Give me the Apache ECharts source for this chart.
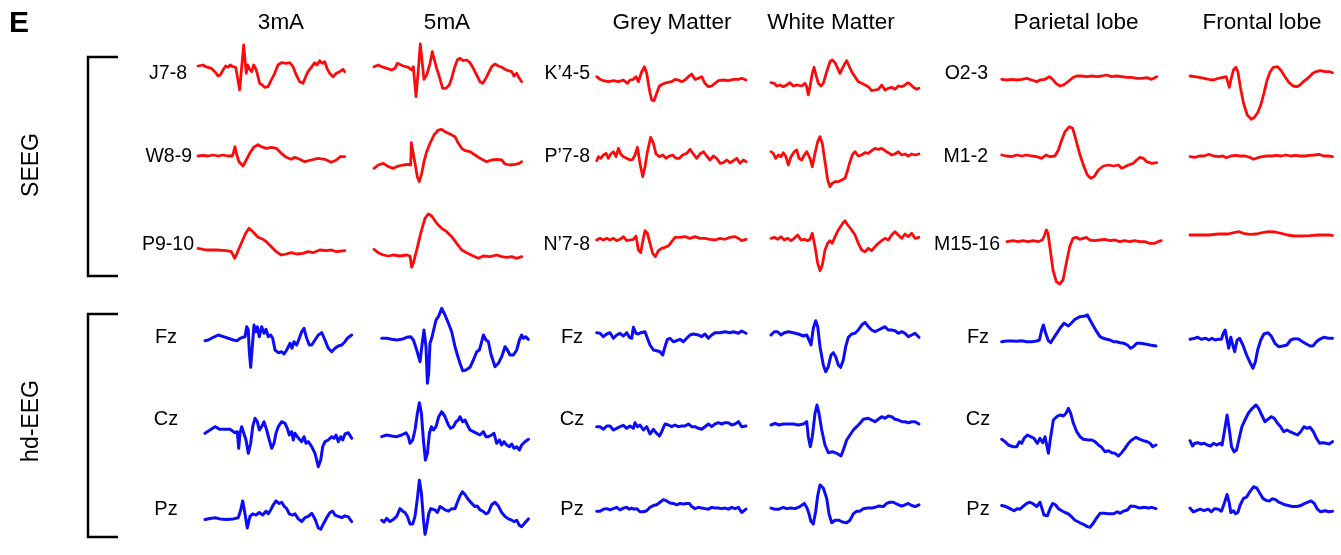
<!DOCTYPE html>
<html><head><meta charset="utf-8">
<script src="https://cdn.jsdelivr.net/npm/echarts@6/dist/echarts.min.js"></script>
<style>html,body{margin:0;padding:0;background:#fff}#c{width:1341px;height:555px}</style>
</head><body><div id="c"></div>
<script>
// ---------- text ----------
const panelLetter = 'E';
const columnTitles = ['3mA', '5mA', 'Grey Matter', 'White Matter', 'Parietal lobe', 'Frontal lobe'];
const groupLabels = ['SEEG', 'hd-EEG'];
const seegLabels3mA = ['J7-8', 'W8-9', 'P9-10'];
const seegLabelsGrey = ['K\u20194-5', 'P\u20197-8', 'N\u20197-8'];
const seegLabelsParietal = ['O2-3', 'M1-2', 'M15-16'];
const eegLabels = ['Fz', 'Cz', 'Pz'];

// ---------- SEEG traces: [time, amplitude] ----------
const seeg_3mA_J78 = [[0,6],[5,7],[7.7,5.3],[10,4.7],[11.7,2.7],[13.3,3.7],[15,2],[17.7,-0.7],[20,-4],[22.3,-3],[25,2],[27.7,6],[30,4.7],[32.3,7],[35,5.3],[37.7,4.7],[39.7,3.7],[41.7,-18],[43.7,5.3],[45.7,27],[47.3,8.7],[48.3,-1.3],[49.7,7],[51.7,2.7],[53.7,0.3],[55.7,7],[58.3,2],[61.7,-11.3],[64.3,-13],[66.7,-15.3],[70,-14.7],[73.3,-8],[76.7,-1.3],[80,7],[83.3,9.3],[88.3,8.7],[91.7,9.3],[95,5.3],[98.3,-3],[101.7,-9.7],[105,-11.3],[107.7,-4.7],[110,0.3],[113.3,4.7],[116.7,9.3],[119,7],[121.7,11.3],[124.3,8.7],[126.7,10.3],[129,3.7],[131.7,-1.3],[135,-4.7],[138.3,-1.3],[141.7,0.3],[145,2.7],[146.7,0.3]];
const seeg_3mA_W89 = [[0,1],[5,1.7],[10,1],[15,2],[20,1],[25,2],[30,1],[34.3,1],[35.7,5.3],[37,10.3],[38.3,3.7],[41,-4.7],[45,-9],[48.3,-3],[51.7,3.7],[55.7,9.7],[60,12.3],[63.3,10.3],[68.3,8.7],[73.3,9.7],[78.3,8.7],[83.3,3.7],[88.3,-0.3],[93.3,-2.3],[96.7,-0.3],[101.7,-2.3],[106.7,-4.7],[113.3,-3],[120,-1.3],[126.7,-2.3],[133.3,-5.3],[138.3,-3],[142.3,0.3],[146.7,0.3]];
const seeg_3mA_P910 = [[0,-5.3],[8.3,-7],[18.3,-7],[28.3,-7.7],[33.3,-8.7],[36.7,-15.3],[39,-10.3],[43.3,-0.3],[47.7,9.7],[51,14.7],[55,11.3],[60,5.7],[65,3.7],[68.3,1.3],[73.3,-3.7],[78.3,-8.7],[83.3,-12],[88.3,-11],[93.3,-9.7],[98.3,-11],[105,-10.3],[110,-8.7],[115,-9.7],[121.7,-7],[128.3,-7.7],[133.3,-7],[138.3,-8.7],[146.7,-7.7]];

const seeg_5mA_1 = [[0,5.3],[4.3,7],[7.7,5.3],[12.7,3.7],[17.7,2],[21,3.7],[23.3,8.7],[25.3,7],[29.3,6],[34.3,4.7],[37.7,2],[39.3,5.3],[42,-24.7],[44.3,2],[46.3,28],[48.3,8.7],[50,-7.3],[52.7,-3],[56,8.7],[58.3,20.3],[60,13.7],[62.7,3.7],[65.3,-4.7],[68.7,-16.3],[72,-16.3],[75.3,-13],[77.7,-6.3],[80.3,3.7],[83.3,12],[86,13.7],[89.3,11.3],[92.7,12],[96,9.3],[99.3,3.7],[102.7,-3],[106,-9.7],[108.7,-11.3],[111,-8],[114.3,-1.3],[117.7,5.3],[121,8],[124.3,6],[127.7,4.7],[131,2.7],[134.3,1.3],[137.7,0.3],[140,-4],[142.7,-1.3],[145.3,-6.3],[147.7,-9.7]];
const seeg_5mA_2 = [[0,-11.3],[4.3,-8],[9.3,-6.3],[14.3,-9.7],[19.3,-11.3],[24.3,-9],[29.3,-8],[34.3,-7.3],[36.7,-8],[37.3,14.3],[39.3,14.3],[41,-6.3],[43.3,-19.7],[45.3,-24.7],[47.7,-16.3],[50,-4.7],[52.7,5.3],[56,13.7],[60,22],[64.3,27],[67.7,27.7],[71,25.3],[76,23],[81,20.3],[84.3,13.7],[87.7,8.7],[91,6.3],[96,5.3],[101,2],[106,-1.3],[112.7,-4.7],[117.7,-3],[122.7,-2.3],[127.7,-3],[131,-7],[136,-8],[141,-7.3],[145.3,-6.3],[147.7,-4.7]];
const seeg_5mA_3 = [[0,-6.3],[4.3,-9.7],[9.3,-12],[14.3,-13],[19.3,-12],[26,-13],[32.7,-12],[36,-13],[37.7,-24.3],[39.3,-20.3],[42.7,-7],[46.7,9.7],[51,24.7],[54.3,29],[57.7,27],[62.7,19.7],[67.7,14.7],[72.7,11.3],[77.7,6.3],[82.7,-0.3],[87.7,-7],[92.7,-9.7],[99.3,-13],[104.3,-15.3],[109.3,-13],[116,-13.7],[122.7,-12],[127.7,-13.7],[132.7,-14.3],[137.7,-13.7],[142.7,-15.3],[147.7,-13.7]];

const seeg_grey_K45 = [[0,-4.7],[3.3,-7.3],[6.7,-8.7],[11.7,-9.7],[16.7,-8.7],[21.7,-9.7],[26.7,-8],[30.7,-11.3],[33.3,-8],[36.7,-7.3],[39.3,-4.7],[41.7,-9.7],[45,0.3],[47.7,5.3],[50,-1.3],[52.7,-18],[55,-28],[57.3,-28.7],[60,-21.3],[62.7,-14],[66,-12],[70,-10.7],[75,-9.7],[78.3,-7.3],[81.7,-8],[85,-9.7],[88.3,-8],[91.7,-4.7],[95,-2],[98.3,-7.3],[101.7,-6.3],[105,-4.7],[108.3,-11.3],[111.7,-14.7],[115,-14],[118.3,-11.3],[121.7,-8.7],[126.7,-8],[131.7,-8.7],[136.7,-7.3],[141.7,-7.3],[145,-6.3],[149.3,-8]];
const seeg_grey_P78 = [[0,-3.7],[1.7,0.3],[4,-1.3],[6.7,2],[9.3,3.7],[11.7,-1.3],[14,3],[16.7,5.3],[19.3,0.3],[21.7,8.7],[24,3],[26.7,0.3],[30,-1.3],[33.3,-3],[36,-2.3],[38.3,2],[40.7,9.7],[43.3,-6.3],[46,-19.7],[48.3,-9.7],[50.7,5.3],[54,19.7],[56.7,13.7],[59.3,3],[62.7,0.3],[66,2],[69.3,-1.3],[72.7,1],[76,2],[79.3,-1.3],[82.7,-1.3],[86,2],[90,3.7],[93.3,7.7],[96.7,3],[100,-1.3],[103.3,3],[106.7,5.3],[110,1],[113.3,-3],[116.7,1],[120,-1.3],[123.3,-6.3],[126.7,-5.7],[130,-3],[133.3,-5.7],[136.7,-3.7],[140,-1.3],[143.3,-6.3],[146.7,-3],[149.3,-4.7]];
const seeg_grey_N78 = [[0,3],[3.3,4.7],[6.7,3],[10,4.7],[13.3,3],[16.7,4.7],[20,2.3],[23.3,3.7],[26.7,6.3],[30,2.3],[33.3,3],[36.7,3.7],[39.3,7],[41.7,-7],[44,-9.7],[46.7,4.7],[48.3,12.3],[50.7,9.7],[53.3,-0.3],[56,-10.3],[58.7,-13.7],[61.7,-7.7],[65,-5.3],[68.3,-4.3],[71.7,-3],[75,1.3],[78.3,5.7],[83.3,5.7],[88.3,6.3],[93.3,4.7],[98.3,6.3],[103.3,4.7],[108.3,4.7],[113.3,3.7],[118.3,3],[123.3,4.7],[128.3,3.7],[133.3,5.7],[138.3,6.3],[141.7,4.7],[145,2.3],[149.3,3.7]];

const seeg_white_1 = [[0,-10.7],[3.3,-11.3],[5.7,-14],[9,-13],[12.3,-14.7],[15.7,-13],[19,-10.7],[22.3,-14],[25.7,-13],[30.7,-14],[34,-11.3],[35.7,-14.7],[37.3,-23],[39,-14.7],[41.3,-1.3],[43,4.7],[45,-3],[47.3,-11.3],[50,-14],[52.3,-11.3],[55.7,0.3],[59,10.3],[61.3,12],[64,9.3],[66.7,3.7],[69,-1.3],[71.3,3.7],[74,8.7],[75.7,11.3],[78,6],[80.7,0.3],[84,-4.7],[87.3,-9.7],[90.7,-11.3],[94,-13],[97.3,-14.7],[100.7,-18.7],[104,-18],[107.3,-17.3],[110.7,-13],[114,-18],[117.3,-16.3],[120.7,-15.3],[124,-17.3],[127.3,-14],[130.7,-14.7],[134,-13],[136.7,-10.7],[139,-12],[142.3,-15.3],[145.7,-17.3],[148,-16.3]];
const seeg_white_2 = [[0,5.3],[2.3,3.7],[4.7,-1.3],[7.3,2],[10,0.3],[12.3,4.3],[14.7,1],[17.3,-8],[20,0.3],[23.3,5.3],[25.7,7],[28,-1.3],[30.7,-3],[33.3,2],[35.7,5.3],[37.3,7],[39,-1.3],[41.3,-9.7],[44,3.7],[46.7,15.3],[49,20.3],[51.3,13.7],[54,-4.7],[56.7,-23],[59,-29.7],[61.3,-26.3],[64,-24.7],[67.3,-24.7],[70.7,-23],[74,-21.3],[76.7,-13],[79,-4.7],[81.3,2],[84,5.3],[87.3,1],[90.7,2],[94,4.3],[97.3,3.7],[100.7,6.3],[104,8.7],[107.3,7.7],[110.7,8.7],[114,6.3],[117.3,4.3],[120.7,2],[124,3],[127.3,5.3],[130.7,2],[134,3],[137.3,1],[140.7,3],[144,2],[148,3]];
const seeg_white_3 = [[0,4.7],[3.3,5.7],[6.7,3.7],[10,6.3],[13.3,3],[16.7,4.7],[20,2.3],[23.3,4.7],[26.7,8],[30,3],[33.3,3.7],[36.7,2.3],[39,3.7],[41.3,9.7],[44,-3.7],[46.7,-20.3],[49,-27.7],[51.3,-22],[54,-7],[56.7,-0.3],[59,2.3],[61.3,-0.3],[64,6.3],[67.3,13],[71.3,19],[74,22.3],[76.7,18],[80.7,13],[84,8],[87.3,-0.3],[90.7,-7],[94,-8.7],[97.3,-5.3],[100.7,-7.7],[104,-3.7],[107.3,-0.3],[110.7,2.3],[114,4.7],[117.3,3],[120.7,8],[124,11.3],[127.3,8],[130.7,4.7],[134,9],[137.3,6.3],[140.7,9.7],[144,4.7],[148,5.7]];

const seeg_par_O23 = [[0,-7.3],[5,-8],[10,-7.3],[15,-8],[20,-7.3],[25,-6.3],[30,-8],[35,-9.7],[38.3,-8],[43.3,-7.3],[47.7,-4.7],[51,-7.3],[54.3,-11.3],[58.3,-14],[61.7,-13],[65,-10.7],[68.3,-8],[71.7,-5.3],[75,-4],[80,-4],[85,-4.7],[90,-4],[95,-4.7],[100,-4],[105,-3],[110,-4.7],[115,-4],[120,-4.7],[125,-5.3],[130,-5.3],[135,-6.3],[140,-6.3],[145,-5.7],[150,-7.3],[155,-4.7]];
const seeg_par_M12 = [[0,2],[5,1],[10,0.3],[15,2],[20,1],[25,2],[30,1],[35,0.3],[40,-1.3],[44.3,2],[48.3,0.3],[53.3,1],[56.7,7],[60,17],[63.3,25.3],[67.7,30.3],[71,28.7],[74.3,17],[78.3,2],[82.3,-9.7],[85.7,-18],[89,-21.3],[92.3,-19.7],[96.7,-13],[101.7,-9],[106.7,-8],[111.7,-9],[116.7,-8],[120,-11.3],[123.3,-9.7],[126.7,-8],[131.7,-6.3],[135,-3],[138.3,-0.3],[141.7,-1.3],[145,-4.7],[150,-6.3],[155,-5.7]];
const seeg_par_M1516 = [[0,1.3],[6,2.3],[11,1.3],[16,2.3],[21,1.3],[26,2.3],[31,1.3],[35.3,3],[37.7,8],[39.3,13],[41,9.7],[43.3,-7],[46,-27],[49.3,-38.7],[52.7,-41],[56,-37],[59.3,-20.3],[62.7,-3.7],[66,4.7],[69.3,5.7],[72.7,3.7],[76,4.7],[79.3,5.7],[82.7,3],[87.7,2.3],[92.7,3],[97.7,3.7],[102.7,2.3],[107.7,3],[112.7,1.3],[117.7,2.3],[122.7,1.3],[127.7,2.3],[132.7,1.3],[137.7,1.3],[142.7,-0.3],[147.7,-0.3],[151,1.3],[154.3,2.3]];

const seeg_front_1 = [[0,-4],[5,-4.7],[10,-5.3],[15,-6.3],[20,-7.3],[25,-8],[30,-6.3],[35,-5.3],[38.3,-4.7],[40,-9.7],[41.7,-15.3],[43.3,-8],[46,2],[48.7,4.7],[50.7,0.3],[53.3,-14.7],[56.7,-31.3],[60.7,-43],[65,-47.3],[68.3,-45.3],[71.7,-40.7],[75,-33],[78.3,-21.3],[81.7,-8],[85,0.3],[88.3,4.7],[92.7,5.3],[96.7,1.3],[100.7,-4.7],[105,-10.7],[109.3,-14],[113.3,-14.7],[116.7,-13],[120,-9.7],[123.3,-7.3],[126.7,-4.7],[130,-1.3],[133.3,0.3],[138.3,1.3],[143.3,0.3],[148.3,0.3],[151,-0.7]];
const seeg_front_2 = [[0,0.3],[5,-0.3],[10,1],[15,1],[20,2.7],[25,1],[30,0.3],[35,1],[38.3,-0.7],[43.3,1],[48.3,1.7],[53.3,1],[58.3,1],[63.3,-0.3],[67.3,-2.3],[71.7,-0.7],[76.7,0.3],[81.7,1],[86.7,1],[91.7,1.7],[96.7,1],[101.7,2],[106.7,1],[111.7,1.7],[116.7,1],[121.7,1],[126.7,1.7],[131.7,2],[136.7,2.7],[141.7,1],[146.7,1],[151,0.3]];
const seeg_front_3 = [[0,8],[10,8],[20,8],[30,9],[40,9],[46.7,10.3],[51.7,11.3],[56.7,9.7],[63.3,8.7],[70,9],[76.7,10.3],[83.3,11.3],[90,11],[96.7,9.7],[103.3,8],[110,7],[116.7,7],[126.7,7.3],[136.7,8],[146.7,8],[151,7.7]];

// ---------- hd-EEG traces: [time, amplitude] ----------
const eeg_3mA_Fz = [[0,-0.7],[3.3,0],[8.3,2.7],[13.3,5],[18.3,3.3],[23.3,1.7],[28.3,0],[32.3,-0.7],[35,1.7],[37.7,2.7],[40,3.3],[41.7,13.3],[43.3,10],[44.3,-11.7],[45.7,-27.3],[47.3,-6.7],[49,15],[50.7,8.3],[52.3,13.3],[54.3,3.3],[56.7,13.3],[59,6.7],[61,10.7],[63.3,3.3],[65.7,5],[67.7,1.7],[70,-10],[73.3,-12.7],[76.7,-11.7],[79,-14],[81.7,-10],[85,-3.3],[87,-8.3],[89,-1.7],[91.7,-5],[94.3,1.7],[96.7,8.3],[99,11.7],[101.7,1.7],[104.3,-5],[106.7,-5],[110,0],[113.3,5],[116.7,7.3],[120,0],[123.3,-8.3],[126.7,-11.7],[130,-8.3],[133.3,-6],[136.7,-5],[140,-1.7],[142.3,1.7],[144.3,3.3],[146.7,5]];
const eeg_3mA_Cz = [[0,-3.3],[5,0],[10,3.3],[15,0.7],[20,0.7],[25,0.7],[30,-2.7],[32.3,-1.7],[33.7,-18.3],[35,-3.3],[36.7,3.3],[38.3,5],[41,-10],[43.3,-23.3],[45.7,-13.3],[47.7,3.3],[50,11.7],[52.3,8.3],[54.3,0],[56.7,3.3],[59,8.3],[61.7,0],[64.3,-10],[66.7,-18.3],[69,-13.3],[71,-3.3],[73.3,3.3],[76.7,8.3],[80,6.7],[82.3,1.7],[84.3,-5],[86.7,-1.7],[88.3,-10],[90,-3.3],[92.3,-6.7],[94.3,-5],[96.7,-11.7],[99,-6.7],[101,-13.3],[103.3,-11.7],[106.7,-16.7],[110,-23.3],[113.3,-36.7],[115.7,-30],[117.7,-16.7],[120,-11.7],[123.3,-10],[126.7,-6.7],[129,-8.3],[131,-5],[133.3,-11.7],[135.7,-6.7],[137.7,-10],[140,-4],[143.3,-2.7],[146.7,-8.3]];
const eeg_3mA_Pz = [[0,-9],[5,-7.7],[10,-6.7],[15,-8.3],[21.7,-9],[28.3,-8.3],[33.3,-6.7],[35.7,3.3],[37.7,15],[40,-1.7],[42.3,-20],[45,-5],[47.7,-1.7],[51,-3.3],[54.3,0],[57.7,-3.3],[61,1.7],[63.3,-1.7],[65.7,3.3],[68.3,10],[71,15],[74.3,11.7],[76.7,13.3],[79,8.3],[81.7,5],[84.3,-1.7],[87.7,-3.3],[90,-1.7],[93.3,-8.3],[96.7,-11.7],[100,-6.7],[103.3,-5],[106.7,-1],[110,-8.3],[113.3,-20],[115.7,-21.7],[118.3,-15],[121.7,-6.7],[125,0],[127.7,1.7],[130,-3.3],[133.3,-5],[136.7,-6.7],[140,-4.3],[143.3,-5.7],[146.7,-11.7]];

const eeg_5mA_Fz = [[0,1.7],[5,1.7],[10,0.7],[15,0],[20,0.7],[25,2.7],[29,3.3],[31.7,0],[35,-10],[38.3,-21.7],[40.3,-5],[42.3,10],[44.3,-6.7],[45.7,-43.3],[47,-33.3],[48.3,-3.3],[50,1.7],[51.7,0],[54.3,20],[56.7,23.3],[60,31.7],[63.3,25],[66.7,16.7],[70,8.3],[73.3,-6.7],[75.7,-15],[78.3,-23.3],[81,-30.7],[84.3,-30],[88.3,-27.3],[91.7,-20],[95,-11.7],[97.7,-10],[100,-1.7],[101.7,5],[104.3,0],[106.7,-1.7],[109,-13.3],[111.7,-21.7],[113.3,-26.7],[116.7,-23.3],[120,-16.7],[123.3,-6.7],[125.7,-10],[128.3,-15],[131.7,-15],[135,-10],[137.7,0],[140,5],[141.7,1.7],[144,3.3],[146.7,0.7]];
const eeg_5mA_Cz = [[0,-6.7],[5,-5],[10,-6],[15,-6.7],[20,-5],[24.3,-2.7],[26.7,-6.7],[28.3,-13.3],[31,-10],[33.3,0],[35.7,16.7],[37.7,27.3],[39.7,16.7],[41.7,-10],[43.7,-30],[45.7,-23.3],[47.7,-3.3],[49.7,3.3],[51.7,0],[54.3,3.3],[57,13.3],[60,18.3],[63.3,13.3],[66.7,5],[69,1.7],[71.7,3.3],[74.3,8.3],[76.7,10],[78.3,13.3],[81,8.3],[83.3,10],[85.7,5],[88.3,0],[91.7,-1.7],[95,-3.3],[98.3,-5],[101.7,-1.7],[104.3,-6.7],[106.7,-6.7],[110,-5],[112.3,-3.3],[115,-13.3],[117.7,-10],[120,-15],[122.3,-11.7],[125,-15],[127.7,-16.7],[130,-14],[132.3,-18.3],[135,-16.7],[137.7,-20],[140,-15],[143.3,-11.7],[146.7,-9.3]];
const eeg_5mA_Pz = [[0,-10],[2.3,-12.3],[5,-7.7],[8.3,-11.7],[11.7,-9],[15,-5],[18.3,5],[21,1.7],[23.3,0],[25.7,-5],[28.3,-15],[31,-15],[33.3,-5],[35.7,18.3],[37.7,41.7],[39.7,25],[41.7,-8.3],[43.3,-28.3],[45,-18.3],[47,-1.7],[49,5],[51,6.7],[53.3,3.3],[55.7,0],[58.3,7.7],[61,5.7],[63.3,3.3],[66.7,1.7],[70,5],[73.3,5],[75.7,13.3],[78.3,21.7],[80.7,26.7],[83.3,23.3],[86.7,16.7],[90,11.7],[93.3,7.7],[95.7,8.3],[98.3,3.3],[101,1.7],[104.3,-1.7],[106.7,0],[110,10],[113.3,13.3],[116.7,8.3],[120,0],[123.3,-5],[126.7,-8.3],[130,-10],[132.3,-11.7],[135,-10],[137.7,-16.7],[140,-18.3],[143.3,-13.3],[146.7,-8.3]];

const eeg_grey_Fz = [[0,7.3],[3.3,6.7],[6.7,3.3],[10,6],[13.3,7.3],[16.7,1.7],[20,5],[23.3,6.7],[26.7,4],[30,7.3],[32.7,2.7],[35,1.7],[36.7,12.7],[39.3,6.7],[41.7,6],[44,7.3],[48.3,8.3],[50.7,1.7],[53.3,-5],[56.7,-10],[60,-10.7],[63.3,-11.7],[66,-15],[68.3,-6.7],[70.7,0.7],[73.3,1.7],[76.7,-1.7],[80,-0.7],[83.3,0.7],[86.7,-1.7],[90,1.7],[93.3,5],[96.7,6],[101.7,5],[105,3.3],[108.3,6],[111.7,1.7],[115,5],[118.3,7.3],[123.3,7.3],[128.3,8.3],[133.3,7.3],[136.7,8.3],[141.7,6.7],[145,9],[149.3,6.7]];
const eeg_grey_Cz = [[0,3.3],[3.3,3.3],[6.7,0.7],[10,4],[13.3,4],[16.7,0],[20,1.7],[23.3,3.3],[26.7,4.7],[30,1.7],[33.3,4],[36.7,1.7],[38.3,7.3],[40.7,3.3],[43.3,5],[46.7,0],[50,3.3],[53.3,-4],[56.7,0.7],[59.3,-2.7],[62.7,-6],[65,-1.7],[68.3,6],[71.7,5],[75,3.3],[78.3,5],[81.7,3.3],[85,4],[88.3,4],[91.7,6],[95,3.3],[98.3,3.3],[101.7,1.7],[105,0.7],[108.3,3.3],[111.7,6],[115,3.3],[118.3,6],[121.7,7.3],[125,6],[128.3,7.3],[131.7,7.3],[135,5],[138.3,6],[141.7,8.3],[145,3.3],[149.3,4]];
const eeg_grey_Pz = [[0,1.7],[3.3,1.7],[6.7,4.3],[10,5],[13.3,3.3],[16.7,5],[20,6.7],[23.3,3.3],[26.7,5.7],[30,6.7],[32.7,4.3],[35,5.7],[37.3,4.3],[40,5],[43.3,1],[46.7,1],[50,2.3],[53.3,6.7],[56.7,9],[60,10],[63.3,13.3],[66.7,16.7],[70,15],[73.3,12.3],[76.7,11.7],[80,10],[83.3,11.7],[86.7,11],[90,11.7],[92.7,11.7],[95,7.7],[98.3,5],[101.7,6.7],[105,5.7],[108.3,5],[111.7,4.3],[115,6.7],[118.3,5.7],[121.7,5.7],[125,5],[128.3,5.7],[131.7,4.3],[135,6.7],[138.3,5],[141.7,6.7],[143.3,3.3],[145,0],[149.3,4.3]];

const eeg_white_Fz = [[0,5],[3.3,8.3],[6.7,8.3],[10,5],[13.3,7.3],[17.3,8.3],[22.3,7.3],[27.3,6],[32.3,4],[35.7,5],[38,0],[40,-5],[42.3,11.7],[44.7,19.3],[46.7,13.3],[49,-6.7],[52.3,-25],[54.7,-31.7],[57.3,-26.7],[60,-15],[62.3,-12.7],[64.7,-16.7],[67.3,-25],[69.7,-27.3],[72.3,-20],[74.7,-6.7],[77.3,2.7],[80.7,6],[84,6.7],[87.3,10],[90.7,15],[94,17.7],[97.3,13.3],[100.7,10],[104,8.3],[107.3,10],[110.7,11.7],[114,13.3],[117.3,10],[120.7,10],[124,9.3],[127.3,6.7],[130.7,8.3],[134,6.7],[137.3,3.3],[140.7,5],[144,6.7],[148,2.7]];
const eeg_white_Cz = [[0,5],[4,6.7],[8,5],[12.3,6],[17.3,6],[22.3,6],[27.3,5],[32.3,6],[35.7,8.3],[37.3,-6.7],[39.3,-16.7],[41.3,-6.7],[44,16.7],[46,25],[48,16.7],[50.7,0],[54,-15],[57.3,-22.7],[61.3,-21.7],[65.7,-23.3],[70,-26],[72.3,-20],[75.7,-10],[79,-5],[82.3,0],[85.7,3.3],[89,6.7],[92.3,10.7],[97.3,11.7],[100.7,10],[104,8.3],[107.3,10.7],[110.7,13.3],[114,11.7],[117.3,14],[120.7,13.3],[124,10.7],[127.3,10],[130.7,8.3],[134,8.3],[137.3,7.3],[140.7,8.3],[144,8.3],[148,6]];
const eeg_white_Pz = [[0,5.7],[4,4.3],[8,4.3],[12.3,6.7],[15.7,5],[20,5.7],[24,5],[29,7.7],[33.3,11.7],[35.7,6.7],[38,-1.7],[40,-11.7],[42.3,-15],[44.7,1.7],[46.7,21.7],[49,35.7],[52.3,31.7],[55.7,18.3],[58,-1.7],[60.7,-13.3],[64,-10],[68,-10],[71.3,-12.3],[75.7,-13.3],[79,-10],[82.3,-1.7],[85.7,1.7],[89,1.7],[92.3,5],[96.7,5.7],[100.7,5.7],[104,6.7],[107.3,8.3],[112.3,7.7],[115.7,11.7],[119,13.3],[122.3,13.3],[127.3,10],[130.7,8.3],[134,10],[137.3,11.7],[140.7,9],[144,7.7],[148,10]];

const eeg_par_Fz = [[0,-1.7],[5,-1],[10,-1],[15,-1.3],[20,-0.7],[25,-1.7],[30,-1.7],[35,-1],[37.7,0],[40,10],[41.7,15],[44,6.7],[46.7,-0.7],[49,-2.7],[51.7,1.7],[55,6.7],[58.3,11.7],[62.3,16.7],[66.7,14],[70,17.3],[73.3,20.7],[78.3,23.3],[83.3,24],[85.7,25],[88.3,20],[91.7,14],[95,8.3],[98.3,3.3],[101.7,1.7],[105,0.7],[108.3,0],[111.7,-1.7],[115,-1.7],[118.3,-2.7],[122.3,-3.3],[125.7,-5],[129,-8.3],[131.7,-6.7],[135,-3.3],[139,-3.3],[143.3,-4],[148.3,-5],[154.3,-6]];
const eeg_par_Cz = [[0,-9.3],[3.3,-11.7],[6.7,-15],[11,-16.7],[15,-16.7],[17.7,-11.7],[20,-13.3],[22.3,-8.3],[25.7,-5],[29,-6.7],[32.3,-8.3],[35.7,-13.3],[38.3,-8.3],[41,-12.7],[43.3,-6.7],[45,-15],[46.7,-23.3],[49,-6.7],[51.7,10],[55,13.3],[58.3,15],[61.7,14],[64.3,16.7],[66.7,21.7],[69,16.7],[71.7,6.7],[75,-1.7],[78.3,-6.7],[81.7,-9.3],[86.7,-10],[90,-10],[93.3,-11.7],[96.7,-15],[100,-17.3],[103.3,-21.7],[106.7,-20.7],[110,-22.7],[113.3,-23.3],[116.7,-26],[120,-22.7],[123.3,-18.3],[126.7,-13.3],[130,-10],[134.3,-7.3],[138.3,-9.3],[141.7,-10.7],[145.7,-11.7],[148.3,-13.3],[151,-16.7],[154.3,-15]];
const eeg_par_Pz = [[0,9],[4.3,7.7],[8.3,5],[12.3,2.3],[15.7,5],[18.3,4.3],[21.7,8.3],[25,11.7],[28.3,13.3],[31.7,11],[35,7.7],[38.3,13.3],[40.3,5],[42.3,-3.3],[45.7,-4.3],[48.3,5],[51,11.7],[53.7,10],[56.7,5],[60,2.3],[63.3,0],[66.7,-1.7],[70,-5.7],[73.3,-10],[78.3,-13.3],[82.3,-15.7],[85.7,-18.3],[88.3,-19],[91,-15],[94.3,-8.3],[98.3,-1],[102.3,-1],[106.7,-1.7],[111.7,-1.7],[115.7,1],[118.3,-1],[121.7,1.7],[125.7,3.3],[129,8.3],[133.3,7.7],[138.3,5.7],[142.3,6.7],[146.7,5.7],[150,6.7],[154.3,5]];

const eeg_front_Fz = [[0,0.7],[5,1.7],[8.3,2.7],[11.7,0.7],[16.7,1.7],[20,0],[23.3,1.7],[26.7,0],[30,0.7],[33.3,0.7],[35.3,6.7],[37.3,10],[39.3,0],[41,-8.3],[43.3,2.7],[45.3,-5],[47.3,-11.7],[50,0],[52.7,1.7],[56,-5],[60,-15],[64,-23.3],[66.7,-28.3],[69.3,-21.7],[71.7,-10],[75,0],[78.3,6],[82.7,7.3],[86,4],[90,-3.3],[94,-6.7],[98.3,-6],[102.7,-5],[106.7,0],[110.7,1.3],[115,1],[119.3,-1.7],[123.3,-4],[127.3,-6],[130.7,-5.7],[134,-1.7],[137.3,0.7],[141.7,2.7],[146.7,1.7],[151,1.7]];
const eeg_front_Cz = [[0,-10.7],[2.7,-16],[5,-13.3],[8.3,-12.7],[11.7,-14],[15,-13.3],[18.3,-15],[21.7,-16],[25,-13.3],[28.3,-15],[31.7,-13.3],[34,-15],[36.7,0],[39.3,15],[41.7,0],[44,-16.7],[46.7,-21.7],[49.3,-20],[51.7,-10],[55,3.3],[58.3,10],[61.7,16.7],[66,21.7],[70,25],[72.7,21.7],[76,15],[79.3,8.3],[82.7,10.7],[86,13.3],[89.3,11.7],[92.7,6.7],[96,3.3],[99.3,-1.7],[102.7,0],[106,-1.7],[110,-3.3],[114,-5],[117.3,-1.7],[120.7,3.3],[124,1.7],[127.3,2.7],[130.7,-1.7],[134,-8.3],[137.3,-13.3],[140.7,-12.7],[144,-13.3],[147.3,-14],[151,-11.7]];
const eeg_front_Pz = [[0,5.7],[3.3,1],[6.7,2.3],[10.7,4.3],[15,2.3],[19.3,4.3],[22.7,1],[26,5],[30,4.3],[33.3,1.7],[36.7,13.3],[39.3,23.3],[41.7,11.7],[43.3,0],[46,2.3],[48.3,-1.7],[50.7,0],[53.3,10],[56.7,18.3],[60,20],[63.3,26.7],[67.3,33.3],[70.7,31.7],[74,25],[77.3,18.3],[80.7,15.7],[84,15],[87.3,17.7],[90.7,16.7],[94,13.3],[97.3,11.7],[100.7,10],[104,9],[108.3,7.7],[113.3,7.7],[117.3,9],[121.7,11.7],[125,13.3],[128.3,15],[131.7,11.7],[135,4.3],[138.3,1],[143.3,2.3],[146.7,1],[151,1.7]];

// ---------- layout (positions only) ----------
const RED = '#fb0c0c', BLUE = '#0c0cf5';
const seegX = [198, 374, 596.7, 771, 1001.7, 1190];
const eegX = [205, 381.7, 596.7, 771, 1001.7, 1190];
const seegBase = [72, 157, 243];
const eegBase = [340, 430, 525];
const seegTraces = [
  [seeg_3mA_J78, seeg_3mA_W89, seeg_3mA_P910],
  [seeg_5mA_1, seeg_5mA_2, seeg_5mA_3],
  [seeg_grey_K45, seeg_grey_P78, seeg_grey_N78],
  [seeg_white_1, seeg_white_2, seeg_white_3],
  [seeg_par_O23, seeg_par_M12, seeg_par_M1516],
  [seeg_front_1, seeg_front_2, seeg_front_3]
];
const eegTraces = [
  [eeg_3mA_Fz, eeg_3mA_Cz, eeg_3mA_Pz],
  [eeg_5mA_Fz, eeg_5mA_Cz, eeg_5mA_Pz],
  [eeg_grey_Fz, eeg_grey_Cz, eeg_grey_Pz],
  [eeg_white_Fz, eeg_white_Cz, eeg_white_Pz],
  [eeg_par_Fz, eeg_par_Cz, eeg_par_Pz],
  [eeg_front_Fz, eeg_front_Cz, eeg_front_Pz]
];

const grids = [], xAxes = [], yAxes = [], series = [];
function addTrace(data, left, base, color, width) {
  const i = grids.length;
  grids.push({left: left, top: base - 55, width: 160, height: 110});
  xAxes.push({type: 'value', gridIndex: i, min: 0, max: 160, show: false});
  yAxes.push({type: 'value', gridIndex: i, min: -55, max: 55, show: false});
  series.push({type: 'line', xAxisIndex: i, yAxisIndex: i, data: data, showSymbol: false,
    symbol: 'none', clip: false, lineStyle: {color: color, width: width, join: 'round', cap: 'round'}});
}
seegTraces.forEach((col, c) => col.forEach((d, r) => {
  const left = (c === 4 && r === 2) ? 1007 : seegX[c];
  addTrace(d, left, seegBase[r], RED, 2.8);
}));
eegTraces.forEach((col, c) => col.forEach((d, r) => addTrace(d, eegX[c], eegBase[r], BLUE, 3)));

const FONT = '"Liberation Sans", Arial, sans-serif';
const graphics = [];
function txt(s, x, y, size, align, weight) {
  graphics.push({type: 'text', x: x, y: y, silent: true,
    style: {text: s, fontSize: size, fontWeight: weight || 'normal', fontFamily: FONT, fill: '#000',
      textAlign: align, textVerticalAlign: 'middle'}});
}
txt(panelLetter, 9, 24, 30, 'left', 'bold');
const titleX = [281, 447, 672, 831, 1076, 1262];
columnTitles.forEach((t, i) => txt(t, titleX[i], 23, 22.5, 'center'));
// group labels (rotated)
[[groupLabels[0], 165], [groupLabels[1], 421]].forEach(([t, y]) => {
  graphics.push({type: 'text', x: 32, y: y, rotation: Math.PI / 2, silent: true,
    style: {text: t, fontSize: 23, fontFamily: FONT, fill: '#000', textAlign: 'center', textVerticalAlign: 'middle'}});
});
// brackets
[[57, 276], [314, 537]].forEach(([a, b]) => {
  graphics.push({type: 'polyline', silent: true, shape: {points: [[118, a], [88, a], [88, b], [118, b]]},
    style: {stroke: '#000', lineWidth: 2.5, fill: null}});
});
// channel labels
const seegLabelY = [74, 157, 245];
const r3mA = [187, 192, 194];
seegLabels3mA.forEach((t, r) => txt(t, r3mA[r], seegLabelY[r], 19.5, 'right'));
seegLabelsGrey.forEach((t, r) => txt(t, 590, seegLabelY[r], 19.5, 'right'));
const parRight = [988, 988, 1000];
seegLabelsParietal.forEach((t, r) => txt(t, parRight[r], seegLabelY[r], 19.5, 'right'));
const eegLabelY = [337, 419, 509];
[166, 572, 978].forEach(x => eegLabels.forEach((t, r) => txt(t, x, eegLabelY[r], 20, 'center')));

const chart = echarts.init(document.getElementById('c'), null, {renderer: 'canvas'});
chart.setOption({
  animation: false,
  backgroundColor: '#fff',
  grid: grids, xAxis: xAxes, yAxis: yAxes, series: series,
  graphic: {elements: graphics}
});
</script></body></html>
